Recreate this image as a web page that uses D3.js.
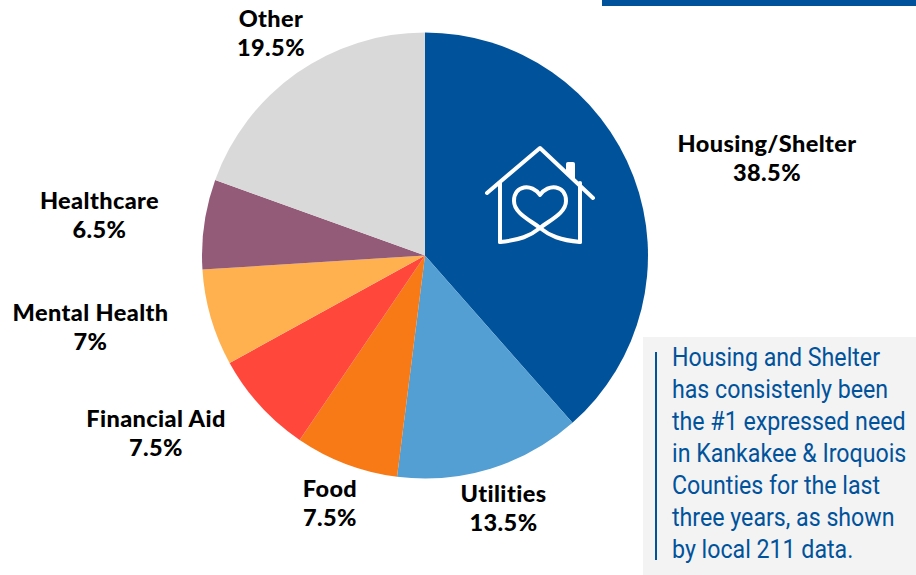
<!DOCTYPE html>
<html>
<head>
<meta charset="utf-8">
<script src="https://cdn.jsdelivr.net/npm/d3@7"></script>
<style>
  html, body { margin: 0; padding: 0; background: #fff; }
  svg { display: block; }
</style>
</head>
<body>
<div id="root"></div>
<script>
// chart data, clockwise from 12 o'clock
const categories = ["Housing/Shelter", "Utilities", "Food", "Financial Aid", "Mental Health", "Healthcare", "Other"];
const shares = [38.5, 13.5, 7.5, 7.5, 7, 6.5, 19.5];
const colors = ["#00529b", "#539fd3", "#f77a17", "#ff473b", "#ffb04f", "#945b79", "#d9d9d9"];
const noteLines = [
  "Housing and Shelter",
  "has consistenly been",
  "the #1 expressed need",
  "in Kankakee & Iroquois",
  "Counties for the last",
  "three years, as shown",
  "by local 211 data."
];

var w = 916;
var h = 575;
var cx = 425;
var cy = 255.5;
var r = 223;

// label centres, by hand since they don't follow the arc
var labelPos = [[767, 144], [503.5, 494], [330, 489], [156, 419], [90.5, 313], [99.5, 201], [271, 19]];

var svg = d3.select("#root").append("svg").attr("width", w).attr("height", h);

// header bar at top right
svg.append("rect").attr("x", 602).attr("y", 0).attr("width", 314).attr("height", 6).attr("fill", "#00529b");

var pie = d3.pie().sort(null)(shares);
var arc = d3.arc().innerRadius(0).outerRadius(r);

svg.append("g").attr("transform", "translate(" + cx + "," + cy + ")")
  .selectAll("path").data(pie).enter().append("path")
  .attr("d", arc)
  .attr("fill", (d, i) => colors[i]);

// labels
var labels = svg.append("g").attr("font-family", "Lato").attr("font-weight", 900)
  .attr("font-size", 23.5).attr("letter-spacing", 0.4).attr("fill", "#000").attr("text-anchor", "middle");
categories.forEach(function(c, i) {
  var t = labels.append("text").attr("transform", "translate(" + labelPos[i][0] + "," + labelPos[i][1] + ")");
  t.append("tspan").attr("x", 0).attr("y", 8).text(c);
  t.append("tspan").attr("x", 0).attr("y", 37).text(shares[i] + "%");
});

// house icon
var icon = svg.append("g").attr("fill", "none").attr("stroke", "#fff")
  .attr("stroke-width", 4).attr("stroke-linecap", "round").attr("stroke-linejoin", "round");
icon.append("path").attr("d", "M487,193 L540,148 L593,198");
icon.append("path").attr("d", "M500,183 L500,242");
icon.append("path").attr("d", "M580,183 L580,242");
// heart and floor are one line, crossing under the heart
icon.append("path").attr("d", "M500,242 C520,240 530,236 540,228 C550,220 566,213 566,201 C566,185 548,183 540,195 C532,183 514,185 514,201 C514,213 530,220 540,228 C550,236 560,240 580,242");
svg.append("path").attr("d", "M566,173 L566,164 Q566,162 568,162 L573,162 Q575,162 575,164 L575,181 Z").attr("fill", "#fff");

// callout box
svg.append("rect").attr("x", 643).attr("y", 337).attr("width", 273).attr("height", 238).attr("fill", "#f3f3f3");
svg.append("line").attr("x1", 656).attr("x2", 656).attr("y1", 352).attr("y2", 560)
  .attr("stroke", "#00529b").attr("stroke-width", 2);
var note = svg.append("g").attr("transform", "translate(672,0) scale(0.875,1)")
  .attr("font-family", "Roboto").attr("font-size", 26.5).attr("fill", "#00529b");
noteLines.forEach(function(l, i) {
  note.append("text").attr("x", 0).attr("y", 366 + i * 32).text(l);
});
</script>
</body>
</html>
